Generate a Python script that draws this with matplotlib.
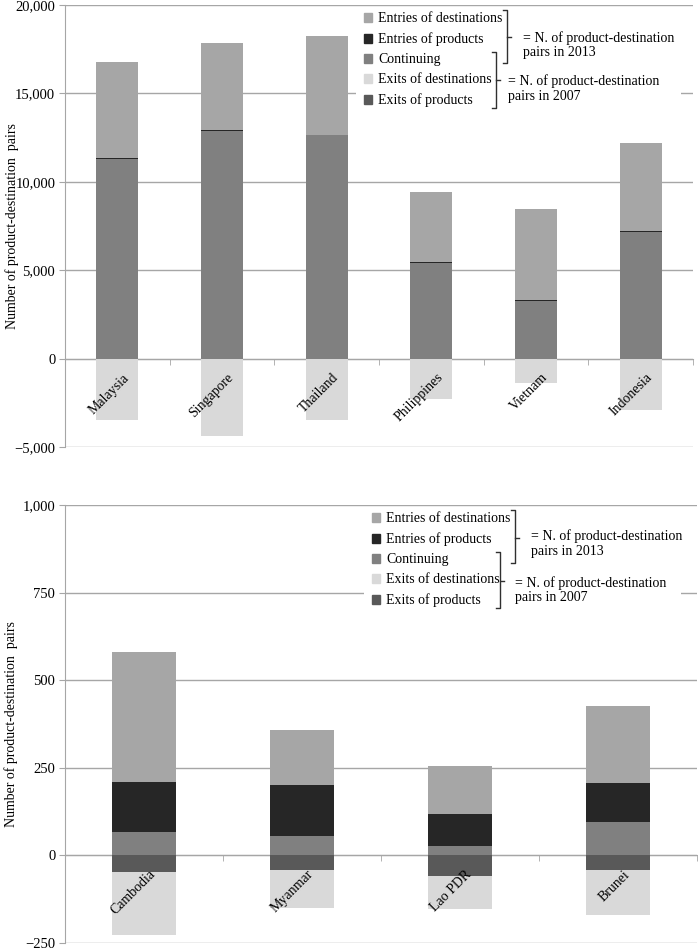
import numpy as np
import matplotlib.pyplot as plt
from matplotlib.lines import Line2D
from matplotlib.patches import Patch, Rectangle
from matplotlib.ticker import FixedLocator, FuncFormatter, MultipleLocator
from matplotlib.transforms import ScaledTranslation

plt.rcParams['font.family'] = ['Liberation Serif', 'DejaVu Serif']

# top panel: larger ASEAN exporters
big_countries = ['Malaysia', 'Singapore', 'Thailand', 'Philippines', 'Vietnam', 'Indonesia']
big_continuing = [11300, 12900, 12620, 5400, 3250, 7180]
big_entries_prod = [30, 20, 40, 60, 90, 40]
big_entries_dest = [5470, 4930, 5590, 3940, 5110, 4960]
big_exits_prod = [-30, -30, -30, -20, -20, -30]
big_exits_dest = [-3420, -4330, -3420, -2240, -1340, -2860]

# bottom panel: smaller exporters
small_countries = ['Cambodia', 'Myanmar', 'Lao PDR', 'Brunei']
small_continuing = [68, 54, 28, 96]
small_entries_prod = [142, 146, 91, 112]
small_entries_dest = [370, 157, 136, 217]
small_exits_prod = [-48, -41, -59, -41]
small_exits_dest = [-178, -109, -94, -129]

legend_labels = ['Entries of destinations', 'Entries of products', 'Continuing',
                 'Exits of destinations', 'Exits of products']

c_ed = '#a6a6a6'
c_ep = '#262626'
c_cont = '#808080'
c_xd = '#d9d9d9'
c_xp = '#595959'
grid_c = '#a6a6a6'

W, H = 698, 952
fig = plt.figure(figsize=(W / 100, H / 100), dpi=100)


def px(x, y):
    return x / W, 1 - y / H


def fmt(v, pos):
    s = '{:,.0f}'.format(abs(v))
    return '\u2212' + s if v < 0 else s


def bracket(x, y0, y1, ym, tx, ty, text):
    xs = [x - 4, x, x, x - 4]
    ys = [y0, y0, y1, y1]
    fig.add_artist(Line2D([p / W for p in xs], [1 - p / H for p in ys],
                          color='#303030', lw=1.0, transform=fig.transFigure))
    fig.add_artist(Line2D([x / W, (x + 4) / W], [1 - ym / H, 1 - ym / H],
                          color='#303030', lw=1.0, transform=fig.transFigure))
    fig.text(*px(tx, ty), text, ha='left', va='center', fontsize=10,
             linespacing=1.15)


def panel(rect, countries, cont, ep, ed, xp, xd, ylim, step,
          leg_xy, box, br1, br2):
    ax = fig.add_axes(rect)
    n = len(countries)
    x = np.arange(n)
    cont, ep, ed = np.array(cont), np.array(ep), np.array(ed)
    xp, xd = np.array(xp), np.array(xd)
    w = 0.4
    ax.bar(x, cont, w, color=c_cont, zorder=2)
    ax.bar(x, ep, w, bottom=cont, color=c_ep, zorder=2)
    ax.bar(x, ed, w, bottom=cont + ep, color=c_ed, zorder=2)
    ax.bar(x, xp, w, color=c_xp, zorder=2)
    ax.bar(x, xd, w, bottom=xp, color=c_xd, zorder=2)

    ax.set_xlim(-0.5, n - 0.5)
    ax.set_ylim(*ylim)
    ax.yaxis.set_major_locator(MultipleLocator(step))
    ax.yaxis.set_major_formatter(FuncFormatter(fmt))
    ax.grid(axis='y', color=grid_c, lw=1.0, zorder=0)
    ax.set_axisbelow(True)
    ax.xaxis.set_zorder(5)  # category names sit on top of the bars
    for s in ['top', 'right']:
        ax.spines[s].set_visible(False)
    ax.spines['left'].set_color(grid_c)
    ax.spines['bottom'].set_position(('data', 0))
    ax.spines['bottom'].set_color(grid_c)
    ax.spines['bottom'].set_zorder(1)

    ax.set_xticks(x)
    ax.set_xticklabels(countries)
    ax.xaxis.set_minor_locator(FixedLocator(np.arange(n + 1) - 0.5))
    ax.tick_params(axis='x', which='major', length=0, pad=9, labelsize=10)
    ax.tick_params(axis='x', which='minor', length=4, color=grid_c, direction='out')
    ax.tick_params(axis='y', length=4, color=grid_c, labelsize=10.5, pad=3)
    off = ScaledTranslation(0.05, 0, fig.dpi_scale_trans)
    for lbl in ax.get_xticklabels():
        lbl.set_rotation(45)
        lbl.set_ha('right')
        lbl.set_va('top')
        lbl.set_rotation_mode('anchor')
        lbl.set_transform(lbl.get_transform() + off)

    ax.set_ylabel('Number of product-destination  pairs', fontsize=10)
    ax.yaxis.set_label_coords(-0.074, 0.5)

    # white area behind the legend and the bracket notes
    bx0, by0, bx1, by1 = box
    ax.add_patch(Rectangle(px(bx0, by1), (bx1 - bx0) / W, (by1 - by0) / H,
                           transform=fig.transFigure, facecolor='white',
                           edgecolor='none', zorder=3, clip_on=False))

    handles = [Patch(color=c) for c in [c_ed, c_ep, c_cont, c_xd, c_xp]]
    leg = ax.legend(handles, legend_labels, loc='upper left',
                    bbox_to_anchor=px(*leg_xy), bbox_transform=fig.transFigure,
                    frameon=False, fontsize=10, handlelength=0.6,
                    handleheight=0.6, handletextpad=0.4, labelspacing=0.52,
                    borderpad=0, borderaxespad=0)
    leg.set_zorder(4)

    bracket(*br1, '= N. of product-destination\npairs in 2013')
    bracket(*br2, '= N. of product-destination\npairs in 2007')
    return ax


top_rect = [65 / W, 1 - 447 / H, (693 - 65) / W, 442 / H]
bot_rect = [65 / W, 1 - 943 / H, (697 - 65) / W, 438 / H]

panel(top_rect, big_countries, big_continuing, big_entries_prod, big_entries_dest,
      big_exits_prod, big_exits_dest, (-5000, 20000), 5000,
      (364, 12), (356, 9, 681, 110),
      (507, 10, 63, 37, 523, 45), (496, 52, 108, 80, 508, 88.5))

panel(bot_rect, small_countries, small_continuing, small_entries_prod, small_entries_dest,
      small_exits_prod, small_exits_dest, (-250, 1000), 250,
      (372, 512), (364, 509, 681, 610),
      (515, 510, 563, 538, 531, 543.5), (500, 552, 608, 581, 515, 590))

fig.savefig('out.png', dpi=100)
